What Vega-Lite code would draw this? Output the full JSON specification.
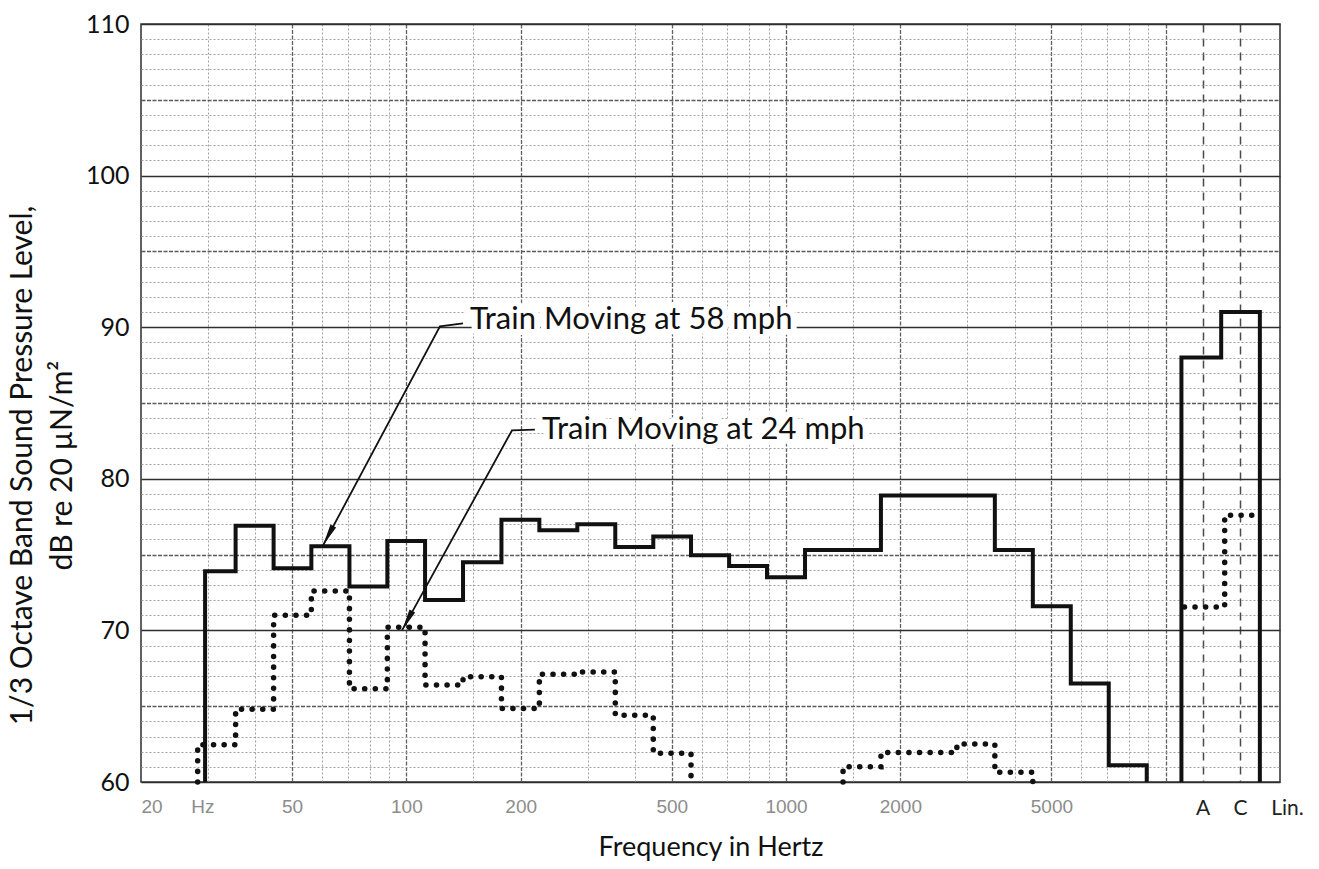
{
  "$schema": "https://vega.github.io/schema/vega-lite/v6.json",
  "width": 1139,
  "height": 758,
  "autosize": {"type": "none"},
  "padding": {"left": 141, "top": 24, "right": 39, "bottom": 87},
  "background": "white",
  "config": {
    "view": {"stroke": "#3a3a3a", "strokeWidth": 1.6},
    "axis": {"domain": false, "ticks": false, "tickSize": 0}
  },
  "datasets": {
    "spectra": [
      {"speed": "58 mph", "part": "a", "n": 0, "f": 29.5, "db": 60},
      {"speed": "58 mph", "part": "a", "n": 1, "f": 29.5, "db": 73.9},
      {"speed": "58 mph", "part": "a", "n": 2, "f": 35.5, "db": 76.9},
      {"speed": "58 mph", "part": "a", "n": 3, "f": 44.7, "db": 74.1},
      {"speed": "58 mph", "part": "a", "n": 4, "f": 56.2, "db": 75.55},
      {"speed": "58 mph", "part": "a", "n": 5, "f": 70.8, "db": 72.9},
      {"speed": "58 mph", "part": "a", "n": 6, "f": 89.1, "db": 75.9},
      {"speed": "58 mph", "part": "a", "n": 7, "f": 112, "db": 72.0},
      {"speed": "58 mph", "part": "a", "n": 8, "f": 141, "db": 74.5},
      {"speed": "58 mph", "part": "a", "n": 9, "f": 178, "db": 77.3},
      {"speed": "58 mph", "part": "a", "n": 10, "f": 224, "db": 76.6},
      {"speed": "58 mph", "part": "a", "n": 11, "f": 282, "db": 77.0},
      {"speed": "58 mph", "part": "a", "n": 12, "f": 355, "db": 75.5},
      {"speed": "58 mph", "part": "a", "n": 13, "f": 447, "db": 76.2},
      {"speed": "58 mph", "part": "a", "n": 14, "f": 562, "db": 74.95},
      {"speed": "58 mph", "part": "a", "n": 15, "f": 708, "db": 74.25},
      {"speed": "58 mph", "part": "a", "n": 16, "f": 891, "db": 73.5},
      {"speed": "58 mph", "part": "a", "n": 17, "f": 1122, "db": 75.3},
      {"speed": "58 mph", "part": "a", "n": 18, "f": 1413, "db": 75.3},
      {"speed": "58 mph", "part": "a", "n": 19, "f": 1778, "db": 78.9},
      {"speed": "58 mph", "part": "a", "n": 20, "f": 2239, "db": 78.9},
      {"speed": "58 mph", "part": "a", "n": 21, "f": 2818, "db": 78.9},
      {"speed": "58 mph", "part": "a", "n": 22, "f": 3548, "db": 75.3},
      {"speed": "58 mph", "part": "a", "n": 23, "f": 4467, "db": 71.6},
      {"speed": "58 mph", "part": "a", "n": 24, "f": 5623, "db": 66.5},
      {"speed": "58 mph", "part": "a", "n": 25, "f": 7079, "db": 61.1},
      {"speed": "58 mph", "part": "a", "n": 26, "f": 8913, "db": 60},
      {"speed": "58 mph", "part": "d", "n": 0, "f": 11000, "db": 60},
      {"speed": "58 mph", "part": "d", "n": 1, "f": 11000, "db": 88.0},
      {"speed": "58 mph", "part": "d", "n": 2, "f": 14000, "db": 91.0},
      {"speed": "58 mph", "part": "d", "n": 3, "f": 17700, "db": 60},
      {"speed": "24 mph", "part": "b", "n": 0, "f": 28.2, "db": 60},
      {"speed": "24 mph", "part": "b", "n": 1, "f": 28.2, "db": 62.45},
      {"speed": "24 mph", "part": "b", "n": 2, "f": 35.5, "db": 64.8},
      {"speed": "24 mph", "part": "b", "n": 3, "f": 44.7, "db": 71.0},
      {"speed": "24 mph", "part": "b", "n": 4, "f": 56.2, "db": 72.6},
      {"speed": "24 mph", "part": "b", "n": 5, "f": 70.8, "db": 66.15},
      {"speed": "24 mph", "part": "b", "n": 6, "f": 89.1, "db": 70.2},
      {"speed": "24 mph", "part": "b", "n": 7, "f": 112, "db": 66.4},
      {"speed": "24 mph", "part": "b", "n": 8, "f": 141, "db": 66.95},
      {"speed": "24 mph", "part": "b", "n": 9, "f": 178, "db": 64.85},
      {"speed": "24 mph", "part": "b", "n": 10, "f": 224, "db": 67.1},
      {"speed": "24 mph", "part": "b", "n": 11, "f": 282, "db": 67.25},
      {"speed": "24 mph", "part": "b", "n": 12, "f": 355, "db": 64.4},
      {"speed": "24 mph", "part": "b", "n": 13, "f": 447, "db": 61.9},
      {"speed": "24 mph", "part": "b", "n": 14, "f": 562, "db": 60},
      {"speed": "24 mph", "part": "c", "n": 0, "f": 1413, "db": 60},
      {"speed": "24 mph", "part": "c", "n": 1, "f": 1413, "db": 61.0},
      {"speed": "24 mph", "part": "c", "n": 2, "f": 1778, "db": 61.95},
      {"speed": "24 mph", "part": "c", "n": 3, "f": 2818, "db": 62.5},
      {"speed": "24 mph", "part": "c", "n": 4, "f": 3548, "db": 60.65},
      {"speed": "24 mph", "part": "c", "n": 5, "f": 4467, "db": 60},
      {"speed": "24 mph", "part": "e", "n": 0, "f": 11200, "db": 71.55},
      {"speed": "24 mph", "part": "e", "n": 1, "f": 14300, "db": 77.6},
      {"speed": "24 mph", "part": "e", "n": 2, "f": 17400, "db": 77.6}
    ],
    "leaders": [
      {"note": "58", "n": 0, "f": 60.3, "db": 75.6},
      {"note": "58", "n": 1, "f": 122.6, "db": 90.05},
      {"note": "58", "n": 2, "f": 141, "db": 90.25},
      {"note": "24", "n": 0, "f": 97.4, "db": 70.0},
      {"note": "24", "n": 1, "f": 189.8, "db": 83.2},
      {"note": "24", "n": 2, "f": 218, "db": 83.25}
    ],
    "notes": [
      {"label": "Train Moving at 58 mph", "f": 147, "db": 89.85},
      {"label": "Train Moving at 24 mph", "f": 227.7, "db": 82.6}
    ]
  },
  "resolve": {"axis": {"x": "independent", "y": "independent"}},
  "layer": [
    {
      "data": {"name": "spectra"},
      "transform": [{"filter": "datum.speed == '58 mph'"}],
      "mark": {"type": "line", "interpolate": "step-after", "color": "#111111", "strokeWidth": 4, "strokeJoin": "miter", "strokeCap": "butt"},
      "encoding": {
        "x": {"field": "f", "type": "quantitative", "scale": {"type": "log", "domain": [20, 20000], "nice": false},
          "axis": {"orient": "bottom", "values": [30, 40, 60, 70, 80, 90, 150, 300, 400, 600, 700, 800, 900, 1500, 3000, 4000, 6000, 7000, 8000, 9000],
            "labels": false, "grid": true, "gridColor": "#a0a0a0", "gridDash": [2, 2], "gridWidth": 1, "title": null}},
        "y": {"field": "db", "type": "quantitative", "scale": {"domain": [60, 110], "nice": false, "zero": false},
          "axis": {"orient": "left", "values": [61, 62, 63, 64, 66, 67, 68, 69, 71, 72, 73, 74, 76, 77, 78, 79, 81, 82, 83, 84, 86, 87, 88, 89, 91, 92, 93, 94, 96, 97, 98, 99, 101, 102, 103, 104, 106, 107, 108, 109],
            "labels": false, "grid": true, "gridColor": "#a0a0a0", "gridDash": [2, 2], "gridWidth": 1, "title": null}},
        "detail": {"field": "part"},
        "order": {"field": "n", "type": "quantitative"}
      }
    },
    {
      "data": {"name": "spectra"},
      "transform": [{"filter": "datum.speed == '24 mph'"}],
      "mark": {"type": "line", "interpolate": "step-after", "color": "#111111", "strokeWidth": 5.5, "strokeDash": [0.1, 10.5], "strokeCap": "round"},
      "encoding": {
        "x": {"field": "f", "type": "quantitative", "scale": {"type": "log", "domain": [20, 20000], "nice": false},
          "axis": {"orient": "bottom", "values": [50, 100, 200, 500, 1000, 2000, 5000, 10000],
            "labels": false, "grid": true, "gridColor": "#606060", "gridDash": [4, 1.5], "gridWidth": 1.3, "title": null}},
        "y": {"field": "db", "type": "quantitative", "scale": {"domain": [60, 110], "nice": false, "zero": false},
          "axis": {"orient": "left", "values": [65, 75, 85, 95, 105],
            "labels": false, "grid": true, "gridColor": "#5a5a5a", "gridDash": [4, 1.5], "gridWidth": 1.3, "title": null}},
        "detail": {"field": "part"},
        "order": {"field": "n", "type": "quantitative"}
      }
    },
    {
      "data": {"name": "leaders"},
      "mark": {"type": "line", "color": "#111111", "strokeWidth": 1.8},
      "encoding": {
        "x": {"field": "f", "type": "quantitative", "scale": {"type": "log", "domain": [20, 20000], "nice": false},
          "axis": {"orient": "bottom", "values": [12500, 15690],
            "labels": false, "grid": true, "gridColor": "#4a4a4a", "gridDash": [8, 6], "gridWidth": 1.5, "title": null}},
        "y": {"field": "db", "type": "quantitative", "scale": {"domain": [60, 110], "nice": false, "zero": false},
          "axis": {"orient": "left", "values": [60, 70, 80, 90, 100, 110],
            "grid": true, "gridColor": "#2e2e2e", "gridWidth": 1.6,
            "labels": true, "labelFont": "Lato", "labelFontSize": 25, "labelColor": "#111111", "labelPadding": 12,
            "title": ["1/3 Octave Band Sound Pressure Level,", "dB re 20 \u00b5N/m\u00b2"],
            "titleFont": "Lato", "titleFontSize": 30, "titleFontWeight": "normal", "titleColor": "#111111",
            "titleLineHeight": 40, "titleAngle": -90, "titleAlign": "center", "titleBaseline": "bottom",
            "titleX": -104, "titleY": 441}},
        "detail": {"field": "note"},
        "order": {"field": "n", "type": "quantitative"}
      }
    },
    {
      "data": {"name": "leaders"},
      "transform": [{"filter": "datum.n == 0"}],
      "mark": {"type": "point", "shape": "M0,0L0.32,2.2L-0.32,2.2Z", "size": 400, "angle": 208, "filled": true, "color": "#111111", "opacity": 1},
      "encoding": {
        "x": {"field": "f", "type": "quantitative", "scale": {"type": "log", "domain": [20, 20000], "nice": false},
          "axis": {"orient": "bottom", "values": [20, 29, 50, 100, 200, 500, 1000, 2000, 5000, 12500, 15690, 18900],
            "labelExpr": "datum.value == 29 ? 'Hz' : datum.value == 12500 ? 'A' : datum.value == 15690 ? 'C' : datum.value == 18900 ? 'Lin.' : format(datum.value, 'd')",
            "grid": false, "labelFlush": false, "labelOverlap": false, "labelBound": false,
            "labelAlign": {"condition": {"test": "datum.value == 20 || datum.value == 18900", "value": "left"}, "value": "center"},
            "labelColor": {"condition": {"test": "datum.value > 10000", "value": "#222222"}, "value": "#8c8c8c"},
            "labelFont": {"condition": {"test": "datum.value > 10000", "value": "Lato"}, "value": "Liberation Sans"},
            "labelFontSize": {"condition": {"test": "datum.value > 10000", "value": 21}, "value": 19},
            "labelPadding": 15,
            "title": "Frequency in Hertz", "titleFont": "Lato", "titleFontSize": 27, "titleFontWeight": "normal",
            "titleColor": "#111111", "titlePadding": 16}},
        "y": {"field": "db", "type": "quantitative", "scale": {"domain": [60, 110], "nice": false, "zero": false}, "axis": null}
      }
    },
    {
      "data": {"name": "notes"},
      "mark": {"type": "text", "align": "left", "baseline": "alphabetic", "font": "Lato", "fontSize": 31, "stroke": "white", "strokeWidth": 12, "strokeJoin": "round", "color": "white"},
      "encoding": {
        "x": {"field": "f", "type": "quantitative", "scale": {"type": "log", "domain": [20, 20000], "nice": false}, "axis": null},
        "y": {"field": "db", "type": "quantitative", "scale": {"domain": [60, 110], "nice": false, "zero": false}, "axis": null},
        "text": {"field": "label"}
      }
    },
    {
      "data": {"name": "notes"},
      "mark": {"type": "text", "align": "left", "baseline": "alphabetic", "font": "Lato", "fontSize": 31, "color": "#111111"},
      "encoding": {
        "x": {"field": "f", "type": "quantitative", "scale": {"type": "log", "domain": [20, 20000], "nice": false}, "axis": null},
        "y": {"field": "db", "type": "quantitative", "scale": {"domain": [60, 110], "nice": false, "zero": false}, "axis": null},
        "text": {"field": "label"}
      }
    }
  ]
}
